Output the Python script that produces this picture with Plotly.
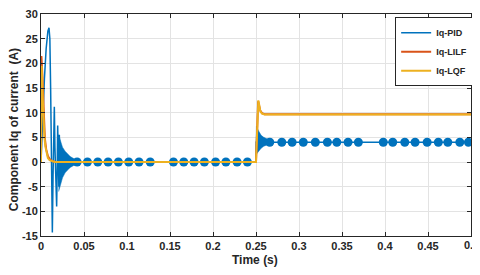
import plotly.graph_objects as go

# ---------------- data ----------------
# Iq-PID main trace (transient spikes, steady level, step at 0.25 s)
pid_t = [0, 0.002, 0.004, 0.006, 0.008, 0.0093, 0.0103, 0.0112, 0.0120, 0.0127, 0.0132,
         0.0140, 0.0148, 0.0155, 0.0162, 0.0170, 0.0182, 0.0188, 0.0194, 0.0203, 0.0208,
         0.0213, 0.0220, 0.25, 0.2502, 0.5]
pid_v = [0, 9, 17, 23, 26.5, 27.2, 25, 15, 3, -8, -14.3,
         -3, 6, 11.2, 3, -4, -9, -2, 7.4, -1, -5,
         5.5, 0, 0, 4, 4]

# Iq-PID dense ripple envelopes (filled band)
band1_t = [0.0205, 0.023, 0.025, 0.028, 0.031, 0.034, 0.037, 0.040]
band1_hi = [5.5, 4.0, 3.0, 2.2, 1.6, 1.1, 0.8, 0.5]
band1_lo = [-6.0, -4.5, -3.2, -2.2, -1.6, -1.1, -0.8, -0.5]
band2_t = [0.2501, 0.2505, 0.253, 0.256, 0.259, 0.262, 0.265]
band2_hi = [4.0, 7.3, 6.3, 5.4, 5.0, 4.7, 4.5]
band2_lo = [1.5, 1.6, 2.2, 2.8, 3.2, 3.4, 3.6]

# Iq-PID slow ripple "beads" (centres, level)
bead_t = [0.042, 0.054, 0.066, 0.078, 0.090, 0.102, 0.114, 0.127,
          0.154, 0.166, 0.178, 0.190, 0.203, 0.215, 0.228, 0.240,
          0.266, 0.280, 0.292, 0.305, 0.319, 0.333, 0.344, 0.357, 0.369,
          0.398, 0.409, 0.423, 0.435, 0.449, 0.462, 0.473, 0.487, 0.497]
bead_v = [0] * 16 + [4] * 18

# Iq-LILF
lilf_t = [0, 0.0005, 0.0015, 0.0025, 0.0035, 0.0045, 0.006, 0.008, 0.010, 0.013, 0.016,
          0.020, 0.25, 0.2505, 0.2515, 0.2525, 0.2535, 0.255, 0.257, 0.260, 0.5]
lilf_v = [0, 21.5, 18, 12, 7.5, 4.8, 2.6, 1.2, 0.6, 0.2, 0.05,
          0, 0, 3, 9, 12.3, 11.5, 10.4, 9.9, 9.7, 9.7]

# Iq-LQF
lqf_t = [0, 0.0008, 0.002, 0.003, 0.004, 0.005, 0.0065, 0.008, 0.010, 0.013, 0.016,
         0.25, 0.2505, 0.2515, 0.2527, 0.2537, 0.255, 0.257, 0.260, 0.5]
lqf_v = [0, 19.5, 13, 8, 5, 3.2, 1.6, 0.8, 0.35, 0.1, 0,
         0, 2.5, 8.5, 12.5, 11.6, 10.3, 9.8, 9.65, 9.65]

x_ticks = [0, 0.05, 0.1, 0.15, 0.2, 0.25, 0.3, 0.35, 0.4, 0.45, 0.5]
x_labels = ["0", "0.05", "0.1", "0.15", "0.2", "0.25", "0.3", "0.35", "0.4", "0.45", "0.5"]
y_ticks = [-15, -10, -5, 0, 5, 10, 15, 20, 25, 30]
y_labels = ["-15", "-10", "-5", "0", "5", "10", "15", "20", "25", "30"]

BLUE = "#0072BD"
ORANGE = "#D95319"
YELLOW = "#EDB120"
AX = "#262626"
FONT = "Liberation Sans, Arial"
TICKFONT = dict(family=FONT, size=11, color=AX, weight="bold")

fig = go.Figure()

fig.add_trace(go.Scatter(x=pid_t, y=pid_v, mode="lines", name="Iq-PID",
                         line=dict(color=BLUE, width=1.5)))
for bt, bh, bl in [(band1_t, band1_hi, band1_lo), (band2_t, band2_hi, band2_lo)]:
    fig.add_trace(go.Scatter(x=bt + bt[::-1], y=bh + bl[::-1], mode="lines",
                             fill="toself", fillcolor=BLUE, line=dict(color=BLUE, width=0.5),
                             showlegend=False, hoverinfo="skip"))
fig.add_trace(go.Scatter(x=bead_t, y=bead_v, mode="markers", showlegend=False,
                         marker=dict(color=BLUE, size=9, line=dict(width=0))))
fig.add_trace(go.Scatter(x=lilf_t, y=lilf_v, mode="lines", name="Iq-LILF",
                         line=dict(color=ORANGE, width=2)))
fig.add_trace(go.Scatter(x=lqf_t, y=lqf_v, mode="lines", name="Iq-LQF",
                         line=dict(color=YELLOW, width=2)))

axis_common = dict(showline=True, linecolor=AX, linewidth=1, mirror="allticks",
                   ticks="inside", ticklen=4, tickcolor=AX, showgrid=True,
                   gridcolor="#e3e3e3", gridwidth=1, zeroline=False, automargin=False,
                   ticklabeloverflow="allow", tickfont=TICKFONT)

# the last x label sits at the page edge, so it is drawn as an annotation (not clipped)
fig.update_xaxes(range=[0, 0.5], tickvals=x_ticks, ticktext=x_labels[:-1] + [""], **axis_common)
fig.update_yaxes(range=[-15, 30], tickvals=y_ticks, ticktext=y_labels, **axis_common)

fig.add_annotation(text=x_labels[-1], xref="x", yref="paper", x=x_ticks[-1], y=0,
                   yshift=-9, xanchor="center", yanchor="middle", showarrow=False,
                   font=TICKFONT)
fig.add_annotation(text="Component Iq of current  (A)", textangle=-90,
                   xref="paper", yref="paper", x=-0.061, y=0.48,
                   xanchor="center", yanchor="middle", showarrow=False,
                   font=dict(family=FONT, size=12, color=AX, weight="bold"))
fig.add_annotation(text="Time (s)", xref="paper", yref="paper", x=0.498, y=0,
                   yshift=-24, xanchor="center", yanchor="middle", showarrow=False,
                   font=dict(family=FONT, size=12, color=AX, weight="bold"))

# page body has an 8px margin, so the figure is drawn 8px in from the top-left
fig.update_layout(
    width=480, height=259,
    margin=dict(l=33, r=17, t=6, b=31),
    paper_bgcolor="white", plot_bgcolor="white",
    legend=dict(x=1.005, y=0.985, xanchor="right", yanchor="top",
                bgcolor="white", bordercolor=AX, borderwidth=1,
                itemwidth=30, tracegroupgap=0,
                font=dict(family=FONT, size=9, color=AX, weight="bold")),
)

fig.write_html("out.html")
